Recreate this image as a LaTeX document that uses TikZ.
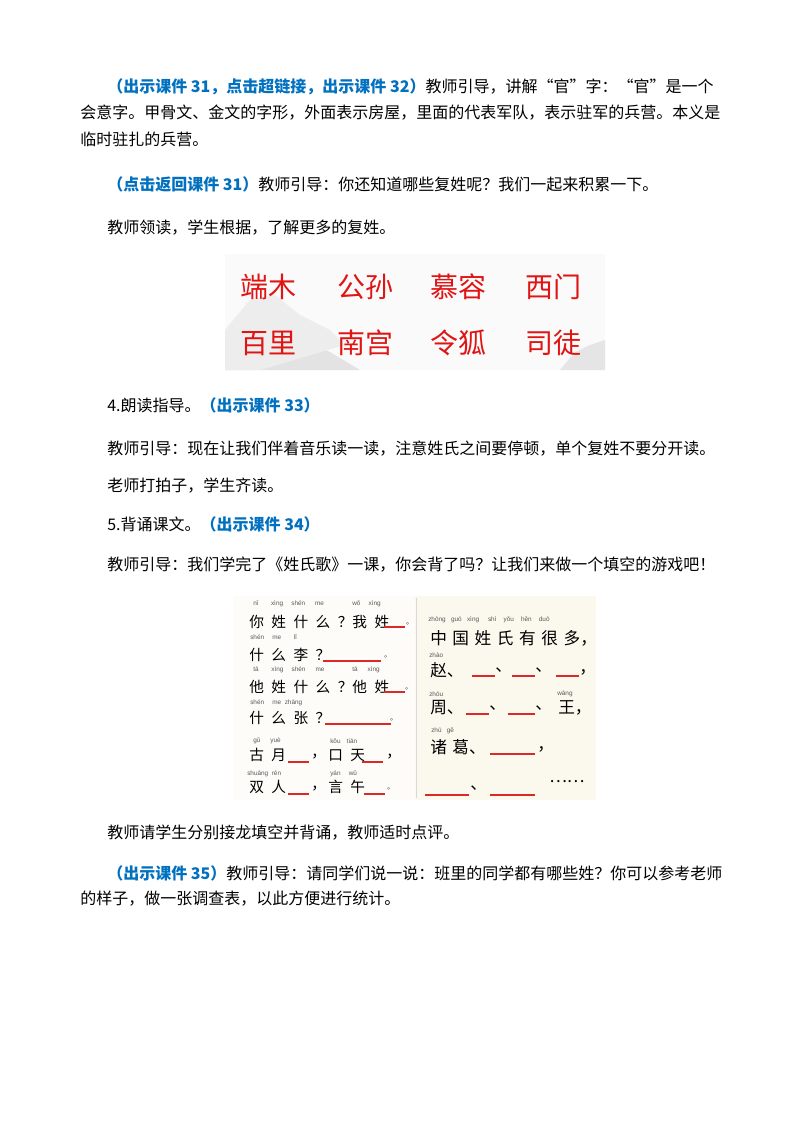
\documentclass[tikz,border=0pt]{standalone}
\usepackage{fontspec}
\setmainfont{Noto Sans CJK SC}
\newfontfamily\pyfont{Liberation Sans}
\newcommand\gp{\hspace{5.6pt}}
\begin{document}
\begin{tikzpicture}[x=0.75pt,y=-0.75pt,
  txt/.style={anchor=west,inner sep=0pt,font=\fontsize{12pt}{14pt}\selectfont},
  big/.style={inner sep=0pt,text=redC,font=\fontsize{21pt}{24pt}\selectfont},
  hz/.style={anchor=west,inner sep=0pt,font=\fontsize{11pt}{13pt}\selectfont},
  hzr/.style={anchor=west,inner sep=0pt,font=\fontsize{12.5pt}{14pt}\selectfont},
  py/.style={anchor=west,inner sep=0pt,text=gray!70!black,font=\pyfont\fontsize{4.8pt}{5pt}\selectfont},
  blank/.style={draw=redB,line width=0.8pt}]
\definecolor{blueC}{RGB}{0,112,192}
\definecolor{redC}{RGB}{225,20,20}
\definecolor{redB}{RGB}{220,40,40}
\definecolor{cream}{RGB}{251,248,238}
\useasboundingbox[fill=white] (0,0) rectangle (800,1132);

\node[txt] (p1) at (107,87) {\textcolor{blueC}{\bfseries（出示课件 31，点击超链接，出示课件 32）}教师引导，讲解“官”字：“官”是一个};
\node[txt] (p2) at (80,113) {会意字。甲骨文、金文的字形，外面表示房屋，里面的代表军队，表示驻军的兵营。本义是};
\node[txt] (p3) at (80,139) {临时驻扎的兵营。};
\node[txt] (p4) at (107,184) {\textcolor{blueC}{\bfseries（点击返回课件 31）}教师引导：你还知道哪些复姓呢？我们一起来积累一下。};
\node[txt] (p5) at (107,228) {教师领读，学生根据，了解更多的复姓。};

% image 1
\fill[gray!4] (225,254) rectangle (605,370);
\fill[gray!22] (225,345) -- (240,325) -- (262,312) -- (280,322) -- (300,340) -- (330,352) -- (360,370) -- (225,370) -- cycle;
\fill[gray!14] (225,330) -- (250,300) -- (275,295) -- (300,315) -- (330,330) -- (345,345) -- (260,370) -- (225,370) -- cycle;
\fill[gray!20] (560,370) -- (575,352) -- (590,345) -- (605,340) -- (605,370) -- cycle;
\node[big] (s1) at (268,287) {端木};
\node[big] (s2) at (365,287) {公孙};
\node[big] (s3) at (458,287) {慕容};
\node[big] (s4) at (553,287) {西门};
\node[big] (s5) at (268,343) {百里};
\node[big] (s6) at (365,343) {南宫};
\node[big] (s7) at (458,343) {令狐};
\node[big] (s8) at (553,343) {司徒};

\node[txt] (p6) at (107,405) {4.朗读指导。\textcolor{blueC}{\bfseries（出示课件 33）}};
\node[txt] (p7) at (107,449) {教师引导：现在让我们伴着音乐读一读，注意姓氏之间要停顿，单个复姓不要分开读。};
\node[txt] (p8) at (107,486) {老师打拍子，学生齐读。};
\node[txt] (p9) at (107,524) {5.背诵课文。\textcolor{blueC}{\bfseries（出示课件 34）}};
\node[txt] (p10) at (107,565) {教师引导：我们学完了《姓氏歌》一课，你会背了吗？让我们来做一个填空的游戏吧！};

% image 2
\fill[cream] (233,596) rectangle (596,800);
\fill[white!60!cream] (233,596) rectangle (415,800);
\draw[gray!30] (416,598) -- (416,798);
% left column
\node[py] (a1) at (253,604) {nǐ\qquad xìng\quad\ shén\quad\ \ me};
\node[py] (a1b) at (352,604) {wǒ\quad\ xìng};
\node[hz] (b1) at (249,622) {你\gp 姓\gp 什\gp 么\gp ？我\gp 姓};
\draw[blank] (384,627) -- (405,627); \node[hz] (c1) at (406,624) {\tiny 。};
\node[py] (a2) at (250,637) {shén\quad\ me\qquad lǐ};
\node[hz] (b2) at (249,655) {什\gp 么\gp 李\gp ？};
\draw[blank] (323,661) -- (381,661); \node[hz] (c2) at (384,657) {\tiny 。};
\node[py] (a3) at (253,670) {tā\qquad xìng\quad\ shén\quad\ \ me};
\node[py] (a3b) at (352,670) {tā\quad\ \ xìng};
\node[hz] (b3) at (249,687) {他\gp 姓\gp 什\gp 么\gp ？他\gp 姓};
\draw[blank] (384,692) -- (405,692); \node[hz] (c3) at (405,689) {\tiny 。};
\node[py] (a4) at (250,703) {shén\quad\ me\ \ zhāng};
\node[hz] (b4) at (249,718) {什\gp 么\gp 张\gp ？};
\draw[blank] (325,724) -- (391,724); \node[hz] (c4) at (390,720) {\tiny 。};
\node[py] (a5) at (253,741) {gǔ\quad\ \ yuè};
\node[py] (a5b) at (330,741) {kǒu\quad tiān};
\node[hz] (b5) at (249,755) {古\gp 月};
\draw[blank] (288,762) -- (309,762); \node[hz] (d5) at (311,757) {，};
\node[hz] (e5) at (328,755) {口\gp 天};
\draw[blank] (362,762) -- (383,762); \node[hz] (f5) at (386,757) {，};
\node[py] (a6) at (247,774) {shuāng\ \ rén};
\node[py] (a6b) at (330,774) {yán\quad\ wǔ};
\node[hz] (b6) at (249,787) {双\gp 人};
\draw[blank] (288,794) -- (309,794); \node[hz] (d6) at (311,789) {，};
\node[hz] (e6) at (328,787) {言\gp 午};
\draw[blank] (364,794) -- (385,794); \node[hz] (f6) at (387,789) {\tiny 。};
% right column
\node[py] (r0) at (428,620) {zhōng\ \ \ guó\ \ \ xìng\ \ \ \ \ shì\ \ \ \ yǒu\ \ \ \ hěn\ \ \ \ duō};
\node[hzr] (r1) at (430,638) {中\,\,国\,\,姓\,\,氏\,\,有\,\,很\,\,多，};
\node[py] (r2p) at (429,655) {zhào};
\node[hzr] (r2) at (430,670) {赵、};
\draw[blank] (472,676) -- (495,676); \node[hzr] (r2a) at (495,670) {、};
\draw[blank] (512,676) -- (535,676); \node[hzr] (r2b) at (535,670) {、};
\draw[blank] (556,676) -- (579,676); \node[hzr] (r2c) at (579,672) {，};
\node[py] (r3p) at (429,694) {zhōu};
\node[py] (r3q) at (557,694) {wáng};
\node[hzr] (r3) at (430,708) {周、};
\draw[blank] (466,714) -- (489,714); \node[hzr] (r3a) at (489,708) {、};
\draw[blank] (508,714) -- (535,714); \node[hzr] (r3b) at (535,708) {、};
\node[hzr] (r3c) at (558,708) {王，};
\node[py] (r4p) at (431,731) {zhū\ \ \ gě};
\node[hzr] (r4) at (430,747) {诸\,\,葛、};
\draw[blank] (490,754) -- (535,754); \node[hzr] (r4a) at (537,749) {，};
\draw[blank] (425,795) -- (469,795); \node[hzr] (r5a) at (470,788) {、};
\draw[blank] (490,795) -- (535,795); \node[hzr] (r5b) at (549,782) {……};

\node[txt] (p11) at (107,833) {教师请学生分别接龙填空并背诵，教师适时点评。};
\node[txt] (p12) at (107,873) {\textcolor{blueC}{\bfseries（出示课件 35）}教师引导：请同学们说一说：班里的同学都有哪些姓？你可以参考老师};
\node[txt] (p13) at (80,899) {的样子，做一张调查表，以此方便进行统计。};
\end{tikzpicture}
\end{document}
